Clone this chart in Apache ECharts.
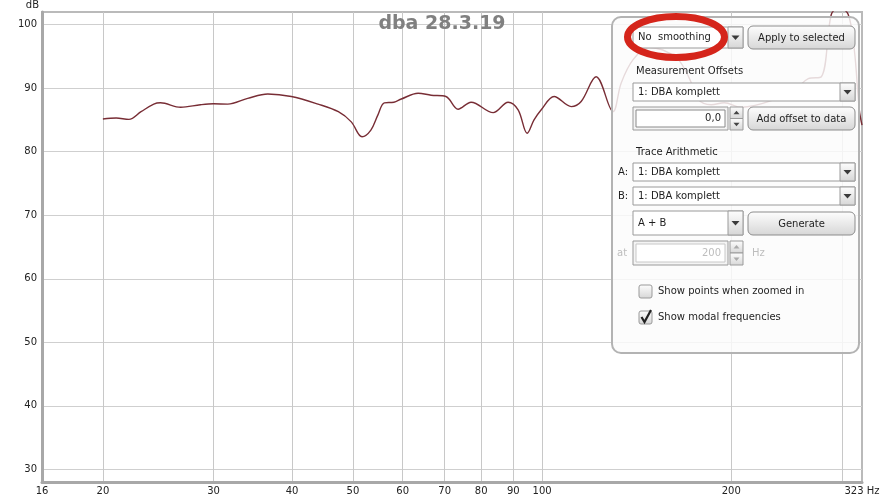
<!DOCTYPE html>
<html>
<head>
<meta charset="utf-8">
<script src="https://cdn.jsdelivr.net/npm/echarts@6/dist/echarts.min.js"></script>
<style>
html, body { margin: 0; padding: 0; background: #fff; }
#chart { width: 884px; height: 500px; }
</style>
</head>
<body>
<div id="chart"></div>
<script>
const freqs = [20, 21, 22, 23, 24.1, 24.7, 26.6, 28.6, 30, 31.6, 34, 36.6, 39.9, 44, 47.4, 49.7, 51.7, 53.4, 54.8, 56.1, 58.1, 59.7, 63.5, 66.6, 70.3, 73.5, 77.1, 83.6, 88.3, 91.6, 94.7, 97.1, 99.7, 104.5, 111.3, 115.4, 121.9, 129.7, 133.6, 139.6, 148.1, 163.5, 171.5, 177.3, 185.9, 195, 207.6, 234.2, 253.9, 265.3, 278.3, 288.6, 297.1, 307.1, 314, 319.8, 323]
const levels = [85.15, 85.3, 85.1, 86.3, 87.5, 87.7, 87.0, 87.4, 87.55, 87.5, 88.4, 89.1, 88.7, 87.5, 86.3, 84.7, 82.35, 83.4, 85.8, 87.7, 87.8, 88.3, 89.2, 88.9, 88.7, 86.7, 87.8, 86.15, 87.8, 86.6, 82.9, 85.0, 86.6, 88.7, 87.1, 87.9, 91.8, 86.3, 90.8, 94.5, 96.4, 94.8, 91.6, 88.2, 87.4, 87.7, 87.0, 88.2, 90.0, 91.5, 91.8, 101.6, 102.7, 101.6, 96.1, 86.6, 84.2]

const xGridValues = [20, 30, 40, 50, 60, 70, 80, 90, 100, 200, 300]
const xLabelValues = [16, 20, 30, 40, 50, 60, 70, 80, 90, 100, 200, 323]
const yTickValues = [30, 40, 50, 60, 70, 80, 90, 100]
const titleText = "dba 28.3.19"

const FONT = '"DejaVu Sans", sans-serif'

const chart = echarts.init(document.getElementById("chart"))

function btnFill() {
    return new echarts.graphic.LinearGradient(0, 0, 0, 1, [
        { offset: 0, color: "#fefefe" },
        { offset: 1, color: "#d6d6d6" },
    ])
}

function label(x, y, text, extra) {
    return {
        type: "text",
        z: 120,
        style: Object.assign(
            {
                x, y, text,
                fill: "#1e1e1e",
                font: "10px " + FONT,
                align: "left", verticalAlign: "middle",
                textAlign: "left", textVerticalAlign: "middle",
            },
            extra || {}
        ),
    }
}

function button(x, y, w, h, text) {
    return [
        { type: "rect", z: 110, shape: { x, y, width: w, height: h, r: 5 }, style: { fill: btnFill(), stroke: "#8c8c8c", lineWidth: 1 } },
        label(x + w / 2, y + h / 2 + 0.5, text, { align: "center", textAlign: "center" }),
    ]
}

function arrowBox(x, y, w, h) {
    return [
        { type: "rect", z: 110, shape: { x, y, width: w, height: h }, style: { fill: btnFill(), stroke: "#9a9a9a", lineWidth: 1 } },
        { type: "polygon", z: 115, shape: { points: [[x + 3.5, y + h / 2 - 2], [x + w - 3.5, y + h / 2 - 2], [x + w / 2, y + h / 2 + 2.5]] }, style: { fill: "#3a3a3a" } },
    ]
}

function combo(x, y, w, h, text) {
    return [
        { type: "rect", z: 110, shape: { x, y, width: w, height: h }, style: { fill: "#fff", stroke: "#9a9a9a", lineWidth: 1 } },
        ...arrowBox(x + w - 15, y, 15, h),
        label(x + 5, y + h / 2, text),
    ]
}

function spinner(x, y, w, h, text, disabled) {
    const col = disabled ? "#bdbdbd" : "#1e1e1e"
    return [
        { type: "rect", z: 110, shape: { x, y, width: w - 15, height: h }, style: { fill: "#f4f4f4", stroke: "#9a9a9a", lineWidth: 1 } },
        { type: "rect", z: 111, shape: { x: x + 3, y: y + 3, width: w - 21, height: h - 6 }, style: { fill: "#fff", stroke: disabled ? "#c8c8c8" : "#8a8a8a", lineWidth: 1 } },
        label(x + w - 22, y + h / 2, text, { align: "right", textAlign: "right", fill: col }),
        { type: "rect", z: 110, shape: { x: x + w - 13, y, width: 13, height: h / 2 }, style: { fill: btnFill(), stroke: "#9a9a9a", lineWidth: 1 } },
        { type: "rect", z: 110, shape: { x: x + w - 13, y: y + h / 2, width: 13, height: h / 2 }, style: { fill: btnFill(), stroke: "#9a9a9a", lineWidth: 1 } },
        { type: "polygon", z: 115, shape: { points: [[x + w - 9.5, y + h / 4 + 1.5], [x + w - 3.5, y + h / 4 + 1.5], [x + w - 6.5, y + h / 4 - 2]] }, style: { fill: disabled ? "#aaa" : "#444" } },
        { type: "polygon", z: 115, shape: { points: [[x + w - 9.5, y + h * 0.75 - 1.5], [x + w - 3.5, y + h * 0.75 - 1.5], [x + w - 6.5, y + h * 0.75 + 2]] }, style: { fill: disabled ? "#aaa" : "#444" } },
    ]
}

function checkbox(x, y, text, checked) {
    const els = [
        { type: "rect", z: 110, shape: { x, y, width: 13, height: 13, r: 2 }, style: { fill: btnFill(), stroke: "#9a9a9a", lineWidth: 1 } },
        label(x + 19, y + 6.5, text, { font: "10px " + FONT }),
    ]
    if (checked) {
        els.push({ type: "polyline", z: 116, shape: { points: [[x + 2.5, y + 6], [x + 5.5, y + 11], [x + 12, y - 1]] }, style: { stroke: "#222", lineWidth: 2.2, fill: null } })
    }
    return els
}

const panel = [
    { type: "rect", z: 100, shape: { x: 612, y: 17, width: 247, height: 336, r: 9 }, style: { fill: "rgba(252,252,252,0.84)", stroke: "#b3b3b3", lineWidth: 2 } },
    ...combo(633, 27, 110, 21, "No  smoothing"),
    ...button(748, 26, 107, 23, "Apply to selected"),
    label(636, 71, "Measurement Offsets"),
    ...combo(633, 83, 222, 18, "1: DBA komplett"),
    ...spinner(633, 107, 110, 23, "0,0", false),
    ...button(748, 107, 107, 23, "Add offset to data"),
    label(636, 152, "Trace Arithmetic"),
    label(618, 172, "A:"),
    ...combo(633, 163, 222, 18, "1: DBA komplett"),
    label(618, 196, "B:"),
    ...combo(633, 187, 222, 18, "1: DBA komplett"),
    ...combo(633, 211, 110, 24, "A + B"),
    ...button(748, 212, 107, 23, "Generate"),
    label(617, 253, "at", { fill: "#bdbdbd" }),
    ...spinner(633, 241, 110, 24, "200", true),
    label(752, 253, "Hz", { fill: "#bdbdbd" }),
    ...checkbox(639, 285, "Show points when zoomed in", false),
    ...checkbox(639, 311, "Show modal frequencies", true),
    // the red marker round the smoothing setting
    { type: "ellipse", z: 130, shape: { cx: 676, cy: 37, rx: 48.5, ry: 20.5 }, style: { fill: null, stroke: "#d5251b", lineWidth: 7 } },
]

const option = {
    animation: false,
    backgroundColor: "#fff",
    title: {
        text: titleText,
        left: "center",
        top: 10,
        textStyle: { fontFamily: FONT, fontWeight: "bold", fontSize: 19, color: "#808080" },
    },
    grid: {
        left: 42,
        right: 22,
        top: 12,
        bottom: 18,
        show: true,
        borderColor: "#bababa",
        borderWidth: 2,
        backgroundColor: "#fff",
    },
    xAxis: {
        type: "log",
        logBase: 10,
        min: 16,
        max: 323,
        axisLine: { show: true, onZero: false, lineStyle: { color: "#a8a8a8", width: 3 } },
        axisTick: { show: false, customValues: xGridValues },
        axisLabel: {
            customValues: xLabelValues,
            color: "#222",
            fontFamily: FONT,
            fontSize: 10,
            margin: 4,
            showMinLabel: true,
            showMaxLabel: true,
            hideOverlap: false,
            formatter: v => (Math.round(v) === 323 ? "323 Hz" : String(Math.round(v))),
        },
        splitLine: { show: true, lineStyle: { color: "#c8c8c8", width: 1 } },
    },
    yAxis: {
        type: "value",
        min: 28,
        max: 102,
        name: "dB",
        nameLocation: "end",
        nameGap: 7,
        nameTextStyle: { fontFamily: FONT, fontSize: 10, color: "#222", align: "right", verticalAlign: "middle", padding: [0, 3, 0, 0] },
        axisLine: { show: true, lineStyle: { color: "#a8a8a8", width: 3 } },
        axisTick: { show: false, customValues: yTickValues },
        axisLabel: { customValues: yTickValues, color: "#222", fontFamily: FONT, fontSize: 10, margin: 5 },
        splitLine: { show: true, lineStyle: { color: "#cfcfcf", width: 1 } },
    },
    series: [
        {
            type: "line",
            data: freqs.map((f, i) => [f, levels[i]]),
            showSymbol: false,
            smooth: 0.35,
            clip: true,
            lineStyle: { color: "#782d35", width: 1.4 },
        },
    ],
    graphic: { elements: panel },
}

chart.setOption(option)
</script>
</body>
</html>
